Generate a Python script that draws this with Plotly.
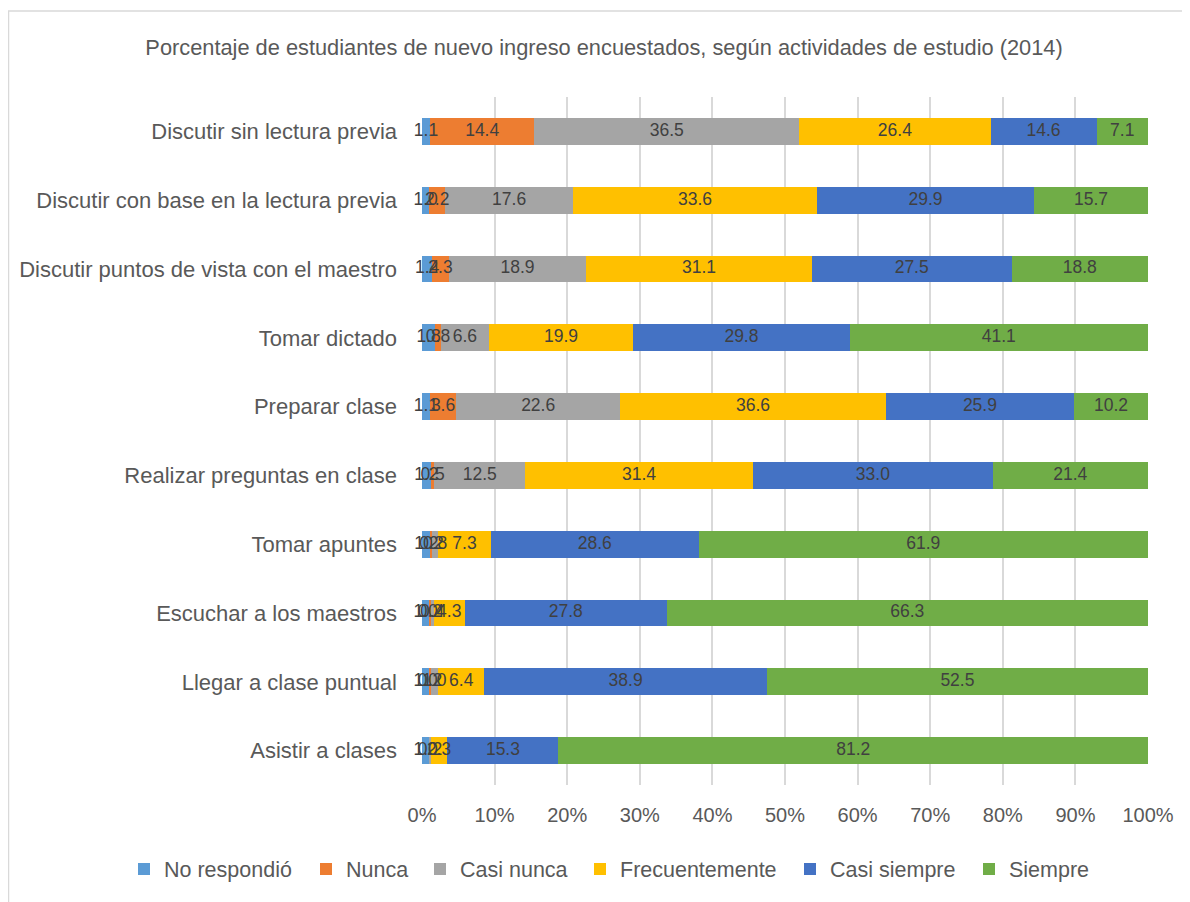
import plotly.graph_objects as go

categories = [
    "Discutir sin lectura previa",
    "Discutir con base en la lectura previa",
    "Discutir puntos de vista con el maestro",
    "Tomar dictado",
    "Preparar clase",
    "Realizar preguntas en clase",
    "Tomar apuntes",
    "Escuchar a los maestros",
    "Llegar a clase puntual",
    "Asistir a clases",
]

series_names = ["No respondió", "Nunca", "Casi nunca", "Frecuentemente", "Casi siempre", "Siempre"]
colors = ["#5B9BD5", "#ED7D31", "#A5A5A5", "#FFC000", "#4472C4", "#70AD47"]

no_respondio   = [1.1, 1.0, 1.4, 1.8, 1.1, 1.2, 1.2, 1.0, 1.0, 1.0]
nunca          = [14.4, 2.2, 2.3, 0.8, 3.6, 0.5, 0.2, 0.2, 0.2, 0.0]
casi_nunca     = [36.5, 17.6, 18.9, 6.6, 22.6, 12.5, 0.8, 0.4, 1.0, 0.2]
frecuentemente = [26.4, 33.6, 31.1, 19.9, 36.6, 31.4, 7.3, 4.3, 6.4, 2.3]
casi_siempre   = [14.6, 29.9, 27.5, 29.8, 25.9, 33.0, 28.6, 27.8, 38.9, 15.3]
siempre        = [7.1, 15.7, 18.8, 41.1, 10.2, 21.4, 61.9, 66.3, 52.5, 81.2]

title_text = "Porcentaje de estudiantes de nuevo ingreso encuestados, según actividades de estudio (2014)"
tick_vals = [0, 10, 20, 30, 40, 50, 60, 70, 80, 90, 100]
tick_text = ["0%", "10%", "20%", "30%", "40%", "50%", "60%", "70%", "80%", "90%", "100%"]

all_series = [no_respondio, nunca, casi_nunca, frecuentemente, casi_siempre, siempre]

FONT = "Liberation Sans, Arial, sans-serif"
TXT = "#595959"

# Page body has an 8px margin; figure laid out in its own local pixels
W, H = 1182, 894
OFF = 8
ML, MR, MT, MB = 422 - OFF, W - (1148 - OFF), 97 - OFF, H - (785 - OFF)
PW, PH = W - ML - MR, H - MT - MB

fig = go.Figure()

totals = [sum(s[i] for s in all_series) for i in range(len(categories))]
norm = [[s[i] / totals[i] * 100 for i in range(len(categories))] for s in all_series]

legend_marker_px = [144, 326, 440, 600, 810, 989]  # reference marker centres
layout_legends = {}
for k, (name, col, vals) in enumerate(zip(series_names, colors, norm)):
    lname = "legend" if k == 0 else f"legend{k + 1}"
    fig.add_trace(go.Bar(
        y=categories, x=vals, name=name, orientation="h",
        marker=dict(color=col, line=dict(width=0)),
        hoverinfo="skip", legend=lname,
    ))
    cx = legend_marker_px[k] - OFF
    layout_legends[lname] = dict(
        xref="container", x=(cx - 20) / W, xanchor="left",
        yref="container", y=1 - (869 - OFF) / H, yanchor="middle",
        font=dict(family=FONT, size=21.5, color=TXT),
        bgcolor="rgba(0,0,0,0)", borderwidth=0,
    )

cum = [0.0] * len(categories)
for vals, raw in zip(norm, all_series):
    mids, texts = [], []
    for i, v in enumerate(vals):
        mids.append(cum[i] + v / 2)
        texts.append(f"{raw[i]:.1f}" if raw[i] > 0 else "")
        cum[i] += v
    fig.add_trace(go.Scatter(
        y=categories, x=mids, mode="text", text=texts,
        textfont=dict(family=FONT, size=17.5, color="#404040"),
        showlegend=False, hoverinfo="skip", cliponaxis=False,
    ))

fig.update_layout(
    width=W, height=H,
    barmode="stack", bargap=0.61,
    paper_bgcolor="white", plot_bgcolor="white",
    margin=dict(l=ML, r=MR, t=MT, b=MB, autoexpand=False),
    title=dict(text=title_text, x=(604 - OFF) / W, xref="container", xanchor="center",
               y=1 - (47 - OFF) / H, yref="container", yanchor="middle",
               font=dict(family=FONT, size=21.8, color=TXT)),
    font=dict(family=FONT, color=TXT),
    xaxis=dict(range=[0, 100], tickvals=tick_vals, ticktext=tick_text,
               showgrid=True, gridcolor="#D9D9D9", gridwidth=2,
               zeroline=False, showline=False, ticks="",
               tickfont=dict(family=FONT, size=20, color=TXT),
               ticklabelstandoff=16, fixedrange=True),
    yaxis=dict(autorange="reversed", showgrid=False, zeroline=False,
               showline=False, ticks="", ticklabelstandoff=24,
               tickfont=dict(family=FONT, size=22, color=TXT)),
    showlegend=True,
    shapes=[dict(type="rect", xref="paper", yref="paper",
                 x0=(0.5 - ML) / PW, x1=(W + 5 - ML) / PW,
                 y0=(MB - H - 5) / PH, y1=(H - MB - 3) / PH,
                 line=dict(color="#D9D9D9", width=1.5), layer="below")],
    **layout_legends,
)

fig.write_html("out.html")
